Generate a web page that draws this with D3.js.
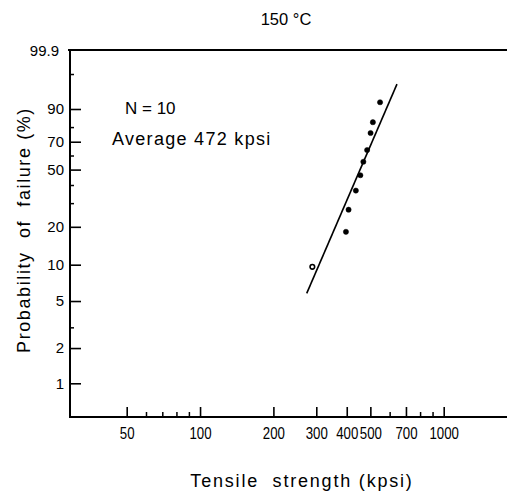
<!DOCTYPE html>
<html>
<head>
<meta charset="utf-8">
<script src="https://cdn.jsdelivr.net/npm/d3@7"></script>
<style>
  html, body { margin: 0; padding: 0; background: #fff; }
  svg { display: block; }
  .tick text { font-family: "Liberation Sans", Arial, Helvetica, sans-serif; fill: #000; }
  .lbl { font-family: "Liberation Sans", Arial, Helvetica, sans-serif; fill: #000; white-space: pre; }
</style>
</head>
<body>
<svg id="chart" width="507" height="495"></svg>
<script>
// ---- data ----
const title = "150 °C";
const xLabel = "Tensile  strength (kpsi)";
const yLabel = "Probability  of  failure (%)";
const annotations = ["N = 10", "Average 472 kpsi"];

const xTicksMajor = [50, 100, 200, 300, 400, 500, 700, 1000];
const xTicksMinor = [60, 70, 80, 90, 600, 800, 900];
const yTicksMajor = [1, 2, 5, 10, 20, 50, 70, 90, 99.9];
const yTicksMinor = [3, 30, 40, 60, 80, 99];

// measured points: tensile strength (kpsi) and cumulative failure probability (%)
const strength   = [289, 397, 407, 436, 455, 468, 485, 501, 512, 548];
const failurePct = [9.6, 18.3, 26.9, 36.7, 46.2, 55.5, 64.0, 76.1, 83.0, 92.8];

// fitted Weibull line end points
const fitStrength = [274, 643];
const fitPct      = [5.8, 97.7];

// ---- scales ----
const weib = p => Math.log(-Math.log(1 - p / 100));
const svg = d3.select("#chart");

const x = d3.scaleLog().domain([50, 1000]).range([126.7, 443.7]);
const y = d3.scaleLinear().domain([weib(1), weib(90)]).range([383.3, 109]);

const frame = { left: 70, top: 50, bottom: 417, right: 507 };

// ---- frame lines ----
const g = svg.append("g");
g.append("line").attr("x1", frame.left).attr("x2", frame.left)
  .attr("y1", frame.top - 1).attr("y2", frame.bottom + 1)
  .attr("stroke", "#000").attr("stroke-width", 2);
g.append("line").attr("x1", frame.left - 2).attr("x2", frame.right)
  .attr("y1", frame.top).attr("y2", frame.top)
  .attr("stroke", "#000").attr("stroke-width", 2);
g.append("line").attr("x1", frame.left).attr("x2", frame.right)
  .attr("y1", frame.bottom).attr("y2", frame.bottom)
  .attr("stroke", "#000").attr("stroke-width", 2);

// ---- y axis ----
const yAxisMajor = d3.axisLeft(y)
  .tickValues(yTicksMajor.filter(v => v < 99.9).map(weib))
  .tickFormat(w => {
    const p = (1 - Math.exp(-Math.exp(w))) * 100;
    return String(Math.round(p * 10) / 10);
  })
  .tickSizeInner(-11).tickSizeOuter(0).tickPadding(6);
const ya = svg.append("g").attr("transform", `translate(${frame.left},0)`).call(yAxisMajor);
ya.select(".domain").remove();
ya.selectAll(".tick line").attr("stroke-width", 1.6);
ya.selectAll(".tick text").attr("font-size", 15);

// top label (99.9) sits at the top corner of the frame
const yTop = svg.append("g").attr("transform", `translate(${frame.left},0)`)
  .call(d3.axisLeft(y).tickValues([weib(99.9)]).tickFormat(() => "99.9")
    .tickSizeInner(0).tickSizeOuter(0).tickPadding(11));
yTop.select(".domain").remove();
yTop.selectAll(".tick text").attr("font-size", 15);
yTop.selectAll(".tick").attr("transform", `translate(0,${frame.top + 1})`);

const yAxisMinor = d3.axisLeft(y)
  .tickValues(yTicksMinor.map(weib)).tickFormat("")
  .tickSizeInner(-4).tickSizeOuter(0);
const ym = svg.append("g").attr("transform", `translate(${frame.left},0)`).call(yAxisMinor);
ym.select(".domain").remove();
ym.selectAll(".tick line").attr("stroke-width", 1.5);

// ---- x axis ----
const xAxisMajor = d3.axisBottom(x)
  .tickValues(xTicksMajor).tickFormat(d3.format("d"))
  .tickSizeInner(-10).tickSizeOuter(0).tickPadding(10);
const xa = svg.append("g").attr("transform", `translate(0,${frame.bottom})`).call(xAxisMajor);
xa.select(".domain").remove();
xa.selectAll(".tick line").attr("stroke-width", 1.6);
xa.selectAll(".tick text").attr("font-size", 17).attr("transform", "scale(0.78,1)");

const xAxisMinor = d3.axisBottom(x)
  .tickValues(xTicksMinor).tickFormat("")
  .tickSizeInner(-5).tickSizeOuter(0);
const xm = svg.append("g").attr("transform", `translate(0,${frame.bottom})`).call(xAxisMinor);
xm.select(".domain").remove();
xm.selectAll(".tick line").attr("stroke-width", 1.5);

// ---- fitted line ----
const fit = fitStrength.map((s, i) => [s, fitPct[i]]);
svg.append("path")
  .datum(fit)
  .attr("fill", "none").attr("stroke", "#000").attr("stroke-width", 1.6)
  .attr("d", d3.line().x(d => x(d[0])).y(d => y(weib(d[1]))));

// ---- points ----
const pts = strength.map((s, i) => ({ s, p: failurePct[i], i }));
svg.append("g").selectAll("circle").data(pts).join("circle")
  .attr("cx", d => x(d.s))
  .attr("cy", d => y(weib(d.p)))
  .attr("r", d => d.i < 1 ? 2.3 : 2.6)
  .attr("fill", d => d.i < 1 ? "#fff" : "#000")
  .attr("stroke", "#000")
  .attr("stroke-width", d => d.i < 1 ? 1.6 : 0.5);

// ---- texts ----
svg.append("text").attr("class", "lbl")
  .attr("x", 286).attr("y", 25).attr("text-anchor", "middle")
  .attr("font-size", 16.5).text(title);

svg.append("text").attr("class", "lbl")
  .attr("x", 125).attr("y", 114)
  .attr("font-size", 17).text(annotations[0]);

svg.append("text").attr("class", "lbl")
  .attr("x", 112).attr("y", 145)
  .attr("font-size", 18).attr("letter-spacing", 1.3).text(annotations[1]);

svg.append("text").attr("class", "lbl")
  .attr("xml:space", "preserve")
  .attr("x", 302).attr("y", 487).attr("text-anchor", "middle")
  .attr("font-size", 18).attr("letter-spacing", 1.8).text(xLabel);

svg.append("text").attr("class", "lbl")
  .attr("xml:space", "preserve")
  .attr("transform", "translate(30,230) rotate(-90)")
  .attr("text-anchor", "middle")
  .attr("font-size", 18).attr("letter-spacing", 1.6).text(yLabel);
</script>
</body>
</html>
